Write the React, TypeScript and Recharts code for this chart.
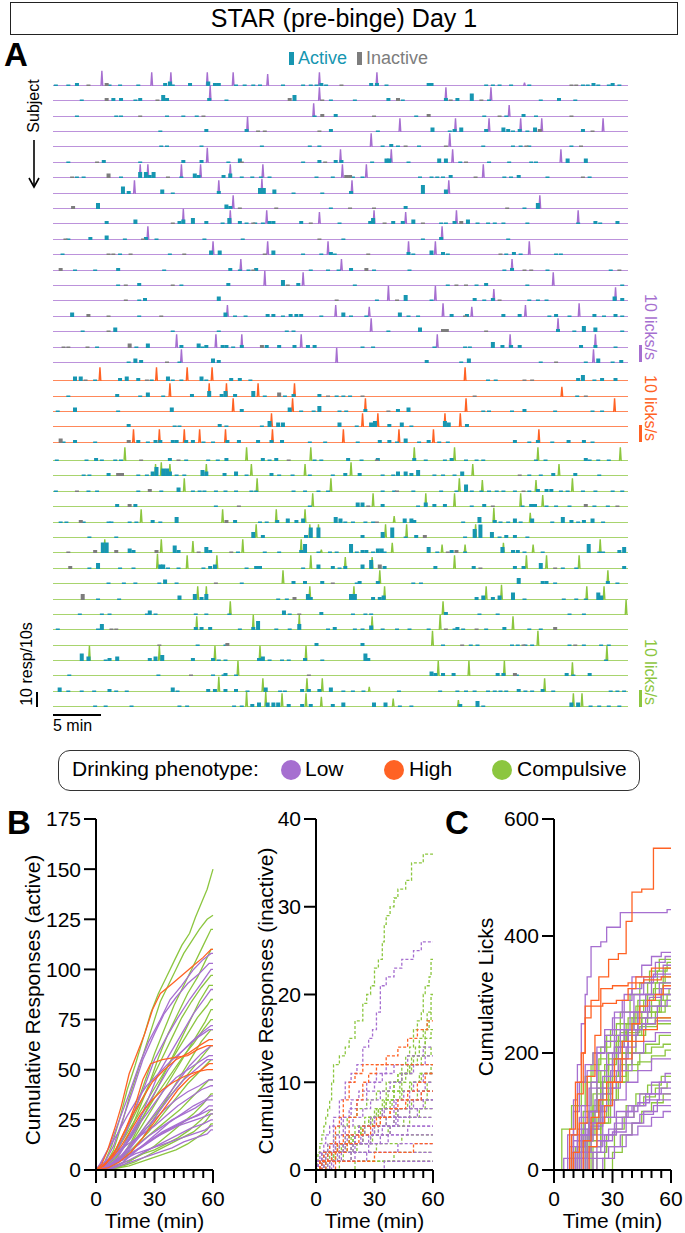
import React from 'react';
import { ComposedChart, LineChart, Line, Bar, Area, XAxis, YAxis } from 'recharts';

const FONT = '"Liberation Sans", Arial, Helvetica, sans-serif';
const LOW = '#a66fd0';
const HIGH = '#ff6224';
const COMP = '#8cc63f';
const LOW_FILL = '#dcc4ef';
const HIGH_FILL = '#ffc2a6';
const COMP_FILL = '#d2eab2';
const ACTIVE = '#1796b1';
const INACTIVE = '#7d7d7d';

// ---- Panel A: lick bouts ("time:licks/s") and responses per bin ("time[:count]"), time in min ----
const lowLicks = [
  '5.1:9 10.3:8 12.3:8 16.1:8 18.8:8 22.4:7 27.8:8 33.8:8 49.2:2',
  '16.4:9 27.8:8 41:8 45.7:8',
  '27.2:8 47.6:7',
  '20.3:9 36.2:8 42:8 45.5:8 48.8:8 51:8 57.4:8',
  '33.2:8 41.4:8',
  '16.1:9 30:8 35.3:8 41.7:8 53:8',
  '9.1:8 9.9:8 13.4:8 15.4:8 18.5:8 21.9:8 30.2:8 32.7:8 44.9:8',
  '8.5:8 17.3:8 21.8:9 31.2:8 41.3:8',
  '18.8:8 50.8:8',
  '13.6:9 18.5:8 22.3:8 27.8:7 33.5:8 36.8:7 42.1:8 54.8:8',
  '9.9:8 40.6:8',
  '16.7:8 22.4:8 28.7:8 37.1:8 39.9:8 49.7:8',
  '19.6:7 30.1:7 47.9:7',
  '22.1:9 26.1:8 52.2:8',
  '35:9 39.9:9 46:7 58.7:8',
  '18.2:7 29.5:7 33:6 40.7:8 43.7:6 49.3:7 54.9:8',
  '33.2:8 52.7:8',
  '12.9:8 17:8 19.7:8 25.9:8 40.1:8 47.7:8 56.6:8',
  '13.4:8 29.6:9 56.4:8',
];
const lowActive = [
  '0.3 1.6 2.5:2 5.9 7 8.9 11.7:2 12.2:3 12.5 14.3:2 16.2:3 16.9:2 17.3:2 19.1 20 20.9 21.6 24 26.1 26.9 27.5 28:2 28.5 33.2:2 33.8:2 34.8 39.2:2 39.5:2 45.2 45.9 46.6 47.8 49.7 55.3 55.8 56.4:2 56.9 58 58.4:2 59.1',
  '3 6.3:2 7.1:2 8.6 9.1:2 11.5:4 11.9:2 16.3:2 18.1 25.2:4 29 31.5 35:2 36.5 41:2 42.2:2 43.7:5 45.5 50.9 52.8:2 54.5',
  '2.5 6.6 7.1 11.9 13.6 15 27.3 29.5:2 37.9 45 47.3 49.1:2 50.4',
  '11.2 16:2 20.2:2 29:2 33.9 39.6:3 41.4 41.9:2 42.6:3 45.2:2 47:3 47.5:2 48 48.7:2 49.5 50.3:3 55.3:2',
  '11.3 11.9 15.5 21.8 26.8 27.8 34.4 35.3:2 36 38.2 44.9 48 48.8 49.7 54.1',
  '1.6 5.3:2 9.1 13.6:2 15.5:2 18.3 19.5:3 26.1 27.8:2 29.5:2 30.1:2 33.3 34.8:3 35.1:3 37.1 40.3:3 41:3 42.5 45.5 47.6 49.9 50.4 53.7:3 55.6:3',
  '2.5 3.2 7.1 9.1:4 9.7:4 10.1:2 10.5:4 13.4 14.8:3 15.2:2 17.8:2 18.5:3 19.7 20.8 21.7 22.6 27.5 29.2 31.3 32.3 38.3 39.5 40.1 40.7 41.5:2 47.1 47.8 48.6:2 51.6 56',
  '7.3:5 7.9:2 11.4:3 12.5 17.3:2 21.6:4 22:4 23.1:3 25.1 28.1 31.1:2 38.6:6 41:3',
  '4.7:4 18.1:3 18.5:2 29 36.8:2 49.2 50.6:4',
  '5.6:2 8.6:3 13.2:2 13.6:3 14.6:4 16:2 17.7 18.4:4 19.5:2 20.2 21.1 21.9 22.6:2 23:2 25.9:2 29.9 33.1:2 33.4:4 35.5:2 36.5:2 37.6:3 40.5 41 41.9:2 43.3:3 44.3 45.4 46.1 47 49.5 54.8 56.6:2 57.1 58.9:2',
  '1.6 3.9:2 5.6:3 7.5 9.7:2 10.8 15.8 19.8 30.3 38.6 40.5:2 47.5',
  '1 7 12.2 16.5:3 17.4:3 23:3 26.1 28 29:2 29.4 37.1:2 37.6 39.5:3 40.7:2 41.2 47.3 48.1:2 48.8 52.5 53',
  '2.3 4.4 6.8:2 11.6 18.5:2 19.5 20.4 21.2:2 26.9 28.7 29.8 31.1:2 33.5 37.2 47.1 47.9:2 51.6 58.2',
  '6.8 9:2 13.4 18.3:2 24:4 25.6:2 31.5 41.2 44.2 45.2:2 49.5 59.4',
  '9 9.6:2 17.3:3 33.8 36.8:4 39.5 44:2 45 45.9:2 49.7 50.6 51.5 58.6:3 59.4:2',
  '2:3 9 18:3 19 20.1 22.4:2 23:2 24 24.8:2 25.4:2 25.9:2 28 30.3:3 31.1 32.7 36.2:3 37.1 38.1 41.6:2 43.2:2 47:2 48.7:2 51.8 52.5:2 53.9 56.5:2 57.5 58.7:2 59.4',
  '3.1 6.5:3 12.5 17.3 24.4 25.1 35 38.3:3 52.7:2 54.4 55.4:4 56.6:3 59.4',
  '4.6 8.7 9.9:3 13.4:2 15.2:3 15.6 16:2 17.7:2 18.1:2 18.8 19.7:2 22.3:2 23.6:2 25.2:2 26.6:2 27.3:2 32.3 33.4 39.8 43 43.5 45.9:4 46.9:2 47.8:2 48.7:2 55.1:2 56.6:2 58.7',
  '7.9 8.6:3 9.2:2 13.2 16.7:3 17.3:2 39:2 42.6 43.4:3 50.9 55.6 56.9:3 58.4 59.3:2',
];
const lowInactive = [
  '3.7 5.6:2 30.1 54.1 54.6',
  '5.6:2 10.9 24.7:2 28.1 36:2 41.5 44.7',
  '9.1 15.7 28.1:2 33.5 39.2:2 46.6 54.1',
  '21.4 22.1 27.8 50.8:2 56.3',
  '36.8 41 49.4 55.1',
  '4.6 19.7 28.4 43.1',
  '2 5.8:3 12 30.6:2 31:2 44.1 55.3',
  '',
  '2.1:2 19.5 23.3 31 33.5 47.4',
  '12.5 20.9 26.9 34.6 38.6 42.6:2',
  '1.3 9.4 27.8',
  '5.8 6.3 8.1 13.7 22.1 32.9 46.7',
  '0.8:2 20.9 32.7:2 49.2 49.9 59.1',
  '7.6 12.5 24.5 42.1 43.1',
  '7.6 29.6 35.9 46.6',
  '3.7:2 5.8 11.3 43',
  '5.8 40.7:2 41.1:2 45.2',
  '1.1 1.6 3.6 8:3 21.8:2',
  '11.9 52.5',
];

const highLicks = [
  '4.9:8 10.8:8 14:8 16.6:8 43:8',
  '12.2:8 16.3:8 18.1:8 21.4:8 25.2:8 53.1:6',
  '18.8:8 25:8 32.6:8 43.1:8 58.6:8',
  '22.8:8 32.3:8 33.9:8 40.9:8 42.5:8',
  '8.4:8 11.1:8 13.7:8 15.3:8 18:8 22.9:8 30.3:8 36.1:8 39.7:8 50.7:8',
];
const highActive = [
  '2.3:3 2.9:3 4.4 7:2 7.7:3 8.9:2 10.3 12:3 12.5 13.4 15.5:3 16 18.6:2 19.5:2 20.6 45.4 46.2 54.8:2 55.3:4 56.5 57.3:2 58.7:2',
  '1.6 6.7:2 9.1 9.9:3 11.5 14.5:2 16.3:4 17.6:2 18:4 19:2 20.9:4 22.1 24.2 25.1:2 27.8:2 29.6 30.3 31 54.7',
  '0.5 2.3:3 6.8 12.4:3 19.7:2 24.7:3 25.9 27.2 27.8:4 29.9 30.6 32.6:2 36:2 37.1:3 44.9 45.5 47.9 49.2:2 52.4 56.3 57.3',
  '7.9:2 12.7 13.2 17.4:2 18.1 21.8 22.6:4 23.5:3 24:3 29.9:3 31.7 33.2:3 33.6:4 35.1:2 36.4:3 37.4 40.9:4 41.3:3 43.2:2',
  '1.1 2.3:2 4.4 8.9:2 9.9 10.7:2 11.2:2 12.5:2 12.9:2 13.9:2 14.6:2 15.7 16.7 18.2:2 19.4:2 21.4:2 22.8:2 23.9:2 26.8 28.4 31.8 34.1:2 35.1:2 35.9 36.8:3 38.2 39.2:2 40.3 41.2 48.2:2 49.7 50.6:2 52.1 53.8:2 55.4:2 56.3',
];
const highInactive = ['3.4 9.8 49.2 50', '23.6:3 28.7 32.3 44 55.6', '35', '', '0.8:3 7.9:2'];

const compLicks = [
  '7.5:8 20.2:8 26.9:8 37.7:8 41.9:8 50.6:8 59.2:8',
  '10.7:7 11.3:8 12.2:7 16:7 20.7:7 26.3:7 31.1:8 43.8:7 52.8:7',
  '13.7:8 21.3:8 29:8 42.4:8 44.8:7 50.4:7 54.2:8',
  '27.1:8 33.4:8 38.9:8 41.9:8 48.8:8 51.1:7',
  '9.2:8 17.7:8 23.3:8 26.3:8 35.6:4 46:9 49.8:6',
  '21.2:8 26.8:8 27.7:8 34.7:8 36.9:8 44.1:8',
  '5.4:8 11.3:8 14.6:7 19.8:8 25.9:8 28:2 35.4:6 40.6:5 43:5 47:6 50.1:5 57.1:8',
  '10.9:9 14:8 17.1:8 26.9:8 30.5:7 33.3:7 41.9:8 49.4:8 51.5:8 54.9:8',
  '24:8 34.1:8 57.9:8',
  '15.1:8 16:8 26.8:8 31.4:8 34.6:8 45.2:8 46.8:9 55.7:8 57.5:8',
  '18.5:8 40.7:8 59.8:9',
  '15:8 20.9:9 25.7:9 33.3:8 40.4:9 48:8',
  '39.6:9 50.6:9',
  '3.8:9 11.1:9 16.9:9 21.6:9 26.4:9 57.8:9',
  '19.3:9 40.2:9 43.4:9 47.1:9 54.2:8',
  '17.3:9 21.9:8 26.5:8 28.1:8 33:3 51.3:8',
  '20.2:9 22.2:9 23.9:8 26.4:8 28:6 35.5:5 42.3:4 54.3:8 55.2:8',
];
const compActive = [
  '0.4 3.5 4.5:2 5.1 6.5 7.1 12.2:2 13.9 16.2 17.2 18.1:2 21.9:2 22.6 23.3:2 27.3 28 30.8:2 32.2 33.9:2 37.7:2 38.9 40.9 41.6:2 43.1 44.2 44.9 50.4 51.4 55.6:2 56 56.9 58',
  '3.2 3.8 5.8:2 8.9 9.8 10.4:3 10.8:6 11.5:5 11.9:5 12.2:3 12.9 13.7 15.6:4 16:3 17.9:2 19.1:3 20.2 22.8:2 23.6 25 26.8 29.2 30.5:2 32:2 34.4 35.5 36:3 36.8:3 37.4:2 38.1:4 39.8 40.7 41.9 42.7:3 49.7 50.9 52.2:2 54.5:2 57',
  '0.3 3.7 4.6 8.9 11.3 13.1:3 14.6 15.3 15.8 17 18 19.1 20.7 21.2 25.1 26.3 27.7 28.7 34.4 35.6 37.6 40.5 42.1 43.1:5 43.7 44.7 45.5 46.3 47 48.2 49.7 50.6:2 51.5:2 52:2 53 53.7 55.3 56.6 58.4 59.4',
  '6.7:2 8.6:2 17 26.8 31.8:3 32.3:3 34.4:2 38.1 38.9:3 39.8:2 40.9:2 43.7 45:2 49 49.9:2 50.3:2 51.5 52.5 53.9 56.5 57.9',
  '0.8 1.4 3.2 5.8 6.1 8 8.7 10.4:2 11.2 12.9:4 19:2 21.6 22.3 23.4:2 24.5:3 25.4:2 26.1:3 29.5:4 30:3 30.5 31.3 32.6 33.4 36.7:3 37.4:3 37.7:2 42.8 44.5:4 46.1:2 46.7 47.5 48.2:3 48.8 50:3 52.1 53.2:4 54.1:2 54.8 55.4:2 56.3:3 57.4',
  '3.8 6.6 20.9:4 21.9:2 26.4:2 26.9:7 27.7:7 32.3:2 34.4:4 35.4:7 36.8 37.9:2 43 44:6 44.6:9 45.8:4 46.6 47.3:2 48.2:2 49.5',
  '5.2:7 5.6:7 8:3 8.4:2 12.7:5 13.1:2 16:4 16.4:2 19.3 22.1 23.6 25.9:2 26.3:6 27.7 28.9 29.6 31.1:6 31.7 32.3:2 32.7:2 33.4 33.9:3 34.3:3 34.6 39.2:4 40.1 41.6:2 43 46.9:4 48:2 48.5:2 49.2 51.1 55.9:6 57 57.4 59.1:2 59.6:4',
  '3.8 4.7:4 7 8.4 11.2:3 11.5:3 12 13.1 15.7 16.4:2 16.9:3 20.2 21.2:2 21.6:2 26.1 27.7:3 29.2:2 29.9 30.5:2 32.3:3 33.2:6 34.6:2 39.9:2 43.9:2 48.2:2 49.1:2 50.9:4 53.2 54.6 59.6:2',
  '5.8 7.4 8.6 11.1 11.7:3 12.9 19.7 25.1:2 26.3:2 28.1:2 31.7 32:2 33.9:2 37.6 38.4 48.6:4 51.1:2 51.5:2 52.4 57.9:2 58.9',
  '4.7 6.9 13.2:3 14.8:4 15.5:2 16:4 23.5 24.4 26.6:4 26.9:2 31.1:4 31.5:4 33.4:2 34.1:2 34.5:3 44.2:2 44.9:3 45.9:2 46.6:3 48:5 49.2 53.3 54.6 55.6 56.9:5 57.2:3',
  '2.8 5.1 5.9 9.8 10.1:3 10.7 14.9 16 18.4 24.1:3 24.7 28:2 31.3 32.6 33.2 41:2 44.5 46.4 53.9 55.4',
  '0.5 4.7 5.1:4 14.9:2 15.5:2 16.4:2 19.5 20.9:2 21.4:6 23.3 24.7 25.7:4 28.7 29.4:2 31.5 32.3 33.2:3 34.4 35.9 37.2 39.2 41.9 42.2:2 42.8 45.2 47.1:2 49.7 50.9',
  '15.1 18 27.5:2 32.3:2 40.7 43.6 44.3 47.9 48.5 49.3 50 53.9 55.4 57.2 58',
  '3:5 3.7:3 5.5 5.9:2 6.7:3 10.1:2 10.7:3 11.4:4 14.6:2 16.7:2 17.3 18 21.5:2 21.9:3 22.6 23.9 24.6 26.3:2 28.1 32.6:5 32.9:2 57.7',
  '1.7 11 16.7 17.8 18:2 19.1 39.5:3 39.9:2 40.7:2 41.8:2 46.4:2 47:2 48.4 53.6:2 54.3 56:2',
  '0.7:3 1.6 3 4.3 5.9:2 6.6 7.7 12.5:3 13 16.2:2 16.9:2 18:2 19.1:2 20.3 22.2:3 23.7 24.2 26:2 26.7:2 27.8:2 29:3 30.3 31.3 32.4 36.1 40.4 42.2 43.1 44 45.4 46.1 46.7 47.3 48.6:2 49.3 50 51.1:2 52.2 58.2 58.9 59.6',
  '4.4 5.5 8.2 13.2 14 18.9 19.7 20.8:2 21.5:3 22.4:3 23:3 23.5:3 24.6:2 26:2 26.9:2 29.2:2 30.3:3 33.5:3 34.7:3 36.2 37.4 42.5:2 44.3:4 44.9 54.1:3 54.8:3 56.1 57 58 59.1',
];
const compInactive = [
  '9.2 13.1 24.6 33.8',
  '6.8:2 7.2:2 48.7',
  '2.5 10.1:2 35.9 49.1',
  '8:2 19.4 32.9 45.9 55.6:2 58.9',
  '2.9:2 18.1:2 33.8',
  '38.8:2',
  '1.6 4.4:2 6.6:2 10.8:2 15.2 18.6 41.2 42.1:2',
  '1.8:2 34.1:3 44.6 52.4',
  '17 29.2',
  '3.1:4 25.2:2',
  '25.7',
  '6.1 6.6 41 44.2 52.4:2',
  '11.1 18.2:2 42.7 49.1 54.5',
  '',
  '14.4 26.7 48.2:2',
  '',
  '',
];

// ---- Panels B and C: cumulative counts, "time:total" ----
const activeLow = [
  '3:4 7:12 12:25 17:38 22:52 27:64 33:75 38:85 44:92 50:100 55:105 59:108',
  '4:3 9:12 14:26 19:40 24:55 30:68 35:78 41:86 47:93 53:98 58:103',
  '5:2 10:8 15:18 20:30 25:42 30:55 36:66 42:76 48:85 54:93 59:100',
  '6:2 11:6 16:14 22:24 27:36 32:48 38:58 44:68 50:78 56:86 59:90',
  '4:2 9:6 14:12 19:20 25:30 31:40 37:50 43:58 49:64 55:69 59:72',
  '2:3 6:10 11:18 16:27 21:35 26:42 32:48 38:54 45:60 52:66 58:70',
  '7:2 12:6 18:12 24:20 30:28 36:36 42:44 48:52 54:58 59:62',
  '3:2 8:5 13:10 18:16 23:24 29:32 35:40 41:46 47:50 53:54 58:57',
  '5:1 10:4 16:9 21:15 27:22 33:30 39:38 45:45 51:50 57:55',
  '6:2 12:6 17:12 23:18 29:24 35:30 41:35 47:39 53:42 58:45',
  '2:2 7:6 12:10 18:14 24:18 30:22 36:27 42:32 48:36 54:40 59:42',
  '8:1 14:4 20:9 26:14 32:19 38:24 44:28 50:32 56:35 59:37',
  '3:1 9:4 15:8 21:12 27:17 33:21 39:25 45:28 51:31 57:35',
  '5:2 11:5 17:8 23:11 29:15 35:19 41:22 47:25 53:28 58:32',
  '4:1 10:3 16:7 22:11 28:15 34:19 40:22 46:25 52:27 58:30',
  '6:2 12:5 18:8 24:12 30:16 36:19 42:22 48:24 54:26 59:28',
  '7:1 13:3 19:6 25:9 31:12 37:15 43:18 49:21 55:23 59:25',
  '2:1 8:3 14:5 20:8 26:10 32:12 38:14 44:16 50:18 56:20 59:22',
  '9:1 15:3 21:5 27:7 33:9 39:11 45:14 51:16 57:18 59:20',
];
const activeHigh = [
  '3:3 6:10 10:22 13:32 17:48 21:58 25:68 29:80 33:88 38:92 44:97 50:102 55:106 59:110',
  '4:2 9:8 14:18 19:28 24:36 29:44 35:50 41:55 47:58 53:62 58:65',
  '5:3 10:10 15:20 20:32 24:45 28:53 34:55 40:56 47:57 52:60 57:62',
  '6:1 12:4 18:9 24:16 30:24 36:32 42:40 48:46 54:50 58:53',
  '3:2 8:6 13:12 18:20 23:28 28:34 34:40 40:44 46:47 52:49 57:50',
];
const activeComp = [
  '4:3 8:12 12:25 16:40 20:52 24:65 28:78 32:88 36:96 40:104 44:112 48:118 51:126 54:133 57:140 60:150',
  '5:3 9:10 13:22 17:36 21:48 25:60 29:72 33:84 37:92 41:100 45:108 49:114 53:120 57:125 60:127',
  '6:2 10:8 15:18 20:30 25:44 30:58 35:70 40:82 45:92 50:102 55:112 59:120',
  '7:2 12:8 17:18 22:30 27:42 32:56 37:68 42:78 47:88 52:96 56:104 59:110',
  '4:2 9:8 14:16 19:26 24:36 29:46 34:56 39:66 44:76 49:84 54:91 59:97',
  '8:2 13:6 18:14 23:24 28:34 33:44 38:54 43:64 48:74 53:84 58:92',
  '3:2 7:6 12:12 17:20 22:28 27:36 32:44 37:52 42:60 47:68 52:76 57:82 59:85',
  '6:1 11:4 16:10 21:18 26:26 31:34 36:42 41:50 46:58 51:66 56:74 59:80',
  '5:2 10:6 15:12 20:20 25:28 30:36 35:43 40:50 45:57 50:63 55:70 59:75',
  '9:1 14:4 19:10 24:16 29:24 34:32 39:40 44:48 49:56 54:64 59:70',
  '4:1 9:4 14:8 19:14 24:20 29:26 34:32 39:38 44:44 49:50 54:56 59:62',
  '7:2 12:5 17:9 22:14 27:19 32:25 37:31 42:37 47:43 52:48 57:53 59:55',
  '3:1 8:3 13:6 18:10 23:14 28:18 33:22 38:26 43:30 48:35 53:40 58:45',
  '10:1 15:3 20:6 25:9 30:12 35:16 40:20 45:24 50:28 55:33 59:38',
  '6:1 12:3 18:5 24:8 30:10 36:13 42:16 48:20 54:25 59:30',
  '8:1 14:2 20:4 26:7 32:10 38:13 44:16 50:19 56:24 59:28',
  '11:1 17:2 23:4 29:6 35:8 41:10 47:13 53:17 57:20 59:23',
];

const inactiveLow = [
  '1:1 2:2 4:3 5:4 7:5 9:6 12:8 15:10 18:11 21:12 24:14 27:15 29:16 31:18 33:21 36:22 40:23 44:24 50:25 54:26',
  '2:1 4:2 6:3 9:5 13:6 17:7 21:8 26:9 30:10 34:11 40:12 47:13 55:14',
  '3:1 6:2 9:3 12:4 15:5 19:6 24:7 28:8 33:9 38:10 44:11 50:12 56:13',
  '1:1 3:2 7:3 10:4 14:6 18:8 22:9 26:10 31:11 36:12',
  '4:1 8:2 14:3 20:4 25:5 30:6 35:7 40:8 45:9 50:10 55:11',
  '2:1 5:2 10:3 16:4 22:5 28:6 34:7 41:8 48:9 56:10',
  '6:1 12:2 18:3 24:4 30:5 36:6 42:7 48:8 54:9',
  '1:1 4:2 9:3 15:4 22:5 30:6 40:7 50:8',
  '7:1 13:2 20:3 27:4 34:5 41:6 48:7 55:8',
  '3:1 8:2 15:3 23:4 32:5 42:6 52:7',
  '2:1 6:2 12:3 20:4 29:5 40:6',
  '5:1 11:2 19:3 28:4 38:5',
  '9:1 18:2 27:3 37:4 47:5',
  '1:1 3:2 14:3 33:4',
  '8:1 20:2 42:3',
  '4:1 26:2',
  '35:1',
  '',
  '',
];
const inactiveHigh = [
  '2:1 4:2 7:3 10:5 12:6 14:8 17:10 20:11 24:12 36:13 42:14 47:15 52:16 57:17',
  '3:1 8:2 11:3 14:4 17:6 21:8 24:10 27:11 31:12',
  '5:1 10:2 16:3 22:4 28:5 33:6 38:7 42:8 47:9 52:10 56:11',
  '2:1 6:2 11:3 17:4 24:5 31:6 38:7 46:8 54:9',
  '10:1 30:2 50:3',
];
const inactiveComp = [
  '0.5:1 1:2 2:3 3:4 4:5 5:6 6:7 7:8 8:10 9:12 12:13 15:14 17:15 20:17 24:19 26:20 28:21 30:23 32:24 34:26 35:28 36:29 38:30 40:31 42:32 46:33 49:35 55:36',
  '4:1 9:2 14:3 19:4 23:5 27:6 31:7 34:8 37:9 40:10 42:11 44:12 46:13 48:14 50:16 52:17 54:18 55:20 56:21 58:22 59:24',
  '5:1 10:2 15:3 20:4 24:5 28:6 32:7 36:8 40:9 43:10 46:11 49:13 51:14 53:15 55:16 57:18 59:20',
  '3:1 7:2 12:3 17:4 22:5 27:6 32:7 36:9 40:10 44:11 47:12 50:13 53:14 56:16 58:17 59:18',
  '2:1 6:2 10:3 15:4 20:5 25:6 30:7 35:8 40:9 44:11 48:12 52:13 56:15 59:16',
  '1:1 3:2 6:3 9:4 12:5 16:6 21:7 26:8 31:9 36:10 42:11 48:12 54:13 59:14',
  '4:1 9:2 14:3 19:4 24:5 29:6 34:7 39:8 44:9 49:10 54:11 59:12',
  '2:1 8:2 13:3 18:4 23:5 28:6 33:7 38:8 43:9 48:10 53:11',
  '6:1 12:2 18:3 24:4 30:5 36:6 42:7 47:8 52:9 57:10',
  '1:1 5:2 11:3 17:4 25:5 33:6 41:7 49:8 57:9',
  '3:1 9:2 16:3 24:4 32:5 40:6 48:7 56:8',
  '7:1 14:2 21:3 29:4 37:5 45:6 53:7',
  '2:1 10:2 19:3 28:4 38:5 48:6',
  '5:1 18:2 31:3 44:4',
  '12:1 40:2',
  '20:1',
  '',
];

const licksLow = [
  '8:40 10:120 12:180 14:250 16:300 17:330 19:382 24:390 27:415 34:440 58:445',
  '5:20 9:60 14:110 17:170 22:210 26:240 31:270 36:300 40:330 45:350 50:365 55:372',
  '10:50 13:90 18:140 22:170 27:200 31:240 36:270 41:300 46:330 52:355 57:365',
  '12:40 16:80 21:120 25:160 30:200 34:240 39:270 44:300 50:330 56:350',
  '9:30 12:70 16:110 19:150 22:200 26:230 30:260 35:290 40:310 45:320 51:335',
  '14:60 18:100 22:140 27:180 31:210 36:240 41:270 47:300 54:320',
  '10:20 15:60 19:100 24:130 29:170 33:210 38:240 43:270 49:295 55:310',
  '16:50 20:80 25:110 30:150 34:190 38:230 43:260 48:280 55:300',
  '11:30 17:70 23:100 27:140 32:170 37:210 42:240 47:260 53:280 58:290',
  '7:60 10:100 13:150 16:180 20:200 26:220 32:230 38:240 45:250 52:255',
  '12:50 18:80 24:110 29:140 34:170 40:200 46:220 52:235',
  '13:30 19:60 25:90 31:120 37:150 43:170 50:190',
  '20:30 26:60 32:90 38:110 44:130 50:150 57:165',
  '15:20 22:50 28:70 35:90 41:110 47:130 54:150',
  '18:40 25:60 31:80 37:100 43:115 49:130 55:140',
  '10:40 14:60 19:75 25:90 32:100 40:110 47:120 54:130',
  '22:20 28:40 34:60 40:80 46:100 53:120',
  '17:30 24:50 30:65 37:80 44:95 51:110',
  '25:20 31:40 37:60 43:75 50:90 56:100',
];
const licksHigh = [
  '9:60 12:130 15:200 16:260 19:290 23:330 28:360 33:370 37:425 40:475 45:480 51:550',
  '8:70 11:150 14:200 16:280 25:285 32:290 38:310 42:330 50:345',
  '10:30 13:80 17:160 21:230 24:310 30:315 38:320 46:325 55:330',
  '15:50 19:90 23:120 27:150 31:190 35:220 40:250 44:280 48:290 52:300 56:315',
  '18:40 22:80 26:110 30:150 35:190 40:220 46:240 53:260',
];
const licksComp = [
  '4:70 9:110 14:150 19:180 24:210 29:240 34:270 39:300 44:320 49:340 54:360',
  '12:40 16:80 20:130 24:170 28:200 33:230 38:260 43:290 48:320 53:340 58:355',
  '8:20 13:60 18:100 22:140 27:180 32:220 37:250 42:280 47:300 52:320 57:345',
  '14:50 18:100 22:150 26:180 31:210 36:240 41:270 46:290 51:310 56:330',
  '10:30 15:70 20:110 25:150 30:190 35:220 40:250 45:270 50:290 56:320',
  '17:60 21:100 25:130 30:170 35:200 40:230 45:260 50:280 55:300 59:310',
  '13:40 18:80 23:120 28:160 33:200 38:230 43:250 48:270 54:290 58:300',
  '20:40 24:80 28:120 32:160 37:200 42:230 47:250 52:270 57:290',
  '11:40 15:100 19:150 23:190 27:230 32:250 40:260 48:270 55:280',
  '16:50 20:100 24:150 28:190 32:220 37:240 45:250 52:260',
  '9:60 12:110 16:160 20:200 26:220 34:235 44:245 53:250',
  '14:30 19:70 24:110 29:150 34:180 40:200 47:215 54:230',
  '19:40 24:80 29:120 33:150 38:180 44:200 50:210 56:215',
  '12:20 17:50 22:90 27:120 32:150 37:170 43:185 50:195 57:205',
  '22:30 27:60 32:90 37:110 42:130 48:145 55:160',
  '26:40 31:70 36:90 41:110 46:125 52:140 58:150',
  '30:30 35:60 40:80 45:100 50:115 56:130',
];

const TIME_TICKS = [0, 5, 10, 15, 20, 25, 30, 35, 40, 45, 50, 55, 60];
const SPIKE_HALF = 0.09;
const LICK_MAX = 11.76; // 10 licks/s = 17 px of a 20 px row
const RESP_MAX = 13.33; // 10 resp = 15 px

function parsePairs(s: string): [number, number][] {
  const str = s.trim();
  if (!str) return [];
  return str.split(/\s+/).map((tok) => {
    const [a, b] = tok.split(':');
    return [Number(a), b === undefined ? 1 : Number(b)] as [number, number];
  });
}

function buildRow(licks: string, active: string, inactive: string) {
  const pts: any[] = [
    { t: 0, lick: 0, active: 0, inactive: 0 },
    { t: 60, lick: 0, active: 0, inactive: 0 },
  ];
  parsePairs(licks).forEach(([t, h]) => {
    pts.push({ t: t - SPIKE_HALF, lick: 0, active: 0, inactive: 0 });
    pts.push({ t, lick: h, active: 0, inactive: 0 });
    pts.push({ t: t + SPIKE_HALF, lick: 0, active: 0, inactive: 0 });
  });
  parsePairs(active).forEach(([t, h]) => pts.push({ t, lick: null, active: h, inactive: 0 }));
  parsePairs(inactive).forEach(([t, h]) => pts.push({ t, lick: null, active: 0, inactive: h }));
  return pts.sort((a, b) => a.t - b.t);
}

function buildCum(s: string) {
  const pts = parsePairs(s).map(([t, v]) => ({ t, v }));
  const last = pts.length ? pts[pts.length - 1].v : 0;
  return [{ t: 0, v: 0 }, ...pts, { t: 60, v: last }];
}

const barShape = (fill: string) => (props: any) => {
  const { x, y, width, height } = props;
  if (!height || height <= 0 || !isFinite(x)) return <g />;
  const cx = x + width / 2;
  return <rect x={cx - 2} y={y} width={4} height={height} fill={fill} />;
};

function RasterRow({ data, color, fill, baseline }: any) {
  return (
    <div style={{ position: 'absolute', left: 53, top: baseline - 20 }}>
      <ComposedChart width={575} height={21} data={data} margin={{ top: 0, right: 0, bottom: 1, left: 0 }}>
        <XAxis type="number" dataKey="t" domain={[0, 60]} hide allowDataOverflow />
        <YAxis yAxisId="r" type="number" domain={[0, RESP_MAX]} hide allowDataOverflow />
        <YAxis yAxisId="l" type="number" domain={[0, LICK_MAX]} hide allowDataOverflow />
        <Bar yAxisId="r" dataKey="active" stackId="r" barSize={4} fill={ACTIVE} shape={barShape(ACTIVE)} isAnimationActive={false} />
        <Bar yAxisId="r" dataKey="inactive" stackId="r" barSize={4} fill={INACTIVE} shape={barShape(INACTIVE)} isAnimationActive={false} />
        <Area yAxisId="l" type="linear" dataKey="lick" stroke={color} strokeWidth={1.4} fill={fill} fillOpacity={0.8} connectNulls dot={false} activeDot={false} isAnimationActive={false} />
      </ComposedChart>
    </div>
  );
}

function TimeTick({ x, y, payload }: any) {
  const major = payload.value % 30 === 0;
  return (
    <g>
      <line x1={x} x2={x} y1={y} y2={y + (major ? 13 : 8)} stroke="#000" strokeWidth={2} />
      {major && (
        <text x={x} y={y + 36} textAnchor="middle" fontSize={21} fill="#000">
          {payload.value}
        </text>
      )}
    </g>
  );
}

function CumChart({ left, yMax, yTicks, series, dashed }: any) {
  return (
    <div style={{ position: 'absolute', left, top: 800 }}>
      <LineChart width={200} height={440} margin={{ top: 19, right: 27, left: 0, bottom: 0 }}>
        <XAxis
          type="number"
          dataKey="t"
          domain={[0, 60]}
          ticks={TIME_TICKS}
          interval={0}
          tickSize={0}
          tickMargin={0}
          tickLine={false}
          tick={(p: any) => <TimeTick {...p} />}
          height={70}
          axisLine={{ stroke: '#000', strokeWidth: 2 }}
          allowDuplicatedCategory={false}
          label={{ value: 'Time (min)', position: 'insideBottom', offset: 12, fontSize: 21, fill: '#000' }}
        />
        <YAxis
          type="number"
          domain={[0, yMax]}
          ticks={yTicks}
          interval={0}
          width={56}
          tickSize={12}
          tickMargin={3}
          tick={{ fontSize: 21, fill: '#000' }}
          axisLine={{ stroke: '#000', strokeWidth: 2 }}
          tickLine={{ stroke: '#000', strokeWidth: 2 }}
        />
        {series.map((s: any, i: number) => (
          <Line
            key={i}
            data={s.data}
            dataKey="v"
            type={s.type}
            stroke={s.color}
            strokeWidth={1.3}
            strokeDasharray={dashed ? '3 2' : undefined}
            dot={false}
            activeDot={false}
            isAnimationActive={false}
          />
        ))}
      </LineChart>
    </div>
  );
}

function makeSeries(low: string[], high: string[], comp: string[], type: string) {
  return [
    ...comp.map((s) => ({ data: buildCum(s), color: COMP, type })),
    ...low.map((s) => ({ data: buildCum(s), color: LOW, type })),
    ...high.map((s) => ({ data: buildCum(s), color: HIGH, type })),
  ];
}

function VText({ cx, cy, angle, size, color, children }: any) {
  return (
    <div
      style={{
        position: 'absolute',
        left: cx,
        top: cy,
        transform: `translate(-50%, -50%) rotate(${angle}deg)`,
        fontSize: size,
        color,
        whiteSpace: 'nowrap',
        lineHeight: 1,
      }}
    >
      {children}
    </div>
  );
}

export default function App() {
  const rows: any[] = [];
  lowLicks.forEach((l, i) =>
    rows.push({ data: buildRow(l, lowActive[i], lowInactive[i]), color: LOW, fill: LOW_FILL, baseline: 85.7 + 15.4 * i })
  );
  highLicks.forEach((l, i) =>
    rows.push({ data: buildRow(l, highActive[i], highInactive[i]), color: HIGH, fill: HIGH_FILL, baseline: 381.3 + 15.35 * i })
  );
  compLicks.forEach((l, i) =>
    rows.push({ data: buildRow(l, compActive[i], compInactive[i]), color: COMP, fill: COMP_FILL, baseline: 461 + 15.39 * i })
  );

  const activeSeries = makeSeries(activeLow, activeHigh, activeComp, 'linear');
  const inactiveSeries = makeSeries(inactiveLow, inactiveHigh, inactiveComp, 'stepAfter');
  const lickSeries = makeSeries(licksLow, licksHigh, licksComp, 'stepAfter');

  return (
    <div style={{ position: 'absolute', left: 0, top: 0, width: 685, height: 1233, background: '#fff', fontFamily: FONT, color: '#000', overflow: 'hidden' }}>
      {/* title */}
      <div style={{ position: 'absolute', left: 10, top: 2, width: 666, height: 31, border: '1.5px solid #222', display: 'flex', alignItems: 'center', justifyContent: 'center', fontSize: 25 }}>
        STAR (pre-binge) Day 1
      </div>

      <div style={{ position: 'absolute', left: 4, top: 36, fontSize: 33, fontWeight: 'bold' }}>A</div>

      {/* response legend */}
      <div style={{ position: 'absolute', left: 289, top: 52, width: 5, height: 13, background: ACTIVE }} />
      <div style={{ position: 'absolute', left: 298, top: 48, fontSize: 18, color: ACTIVE }}>Active</div>
      <div style={{ position: 'absolute', left: 357, top: 52, width: 5, height: 13, background: INACTIVE }} />
      <div style={{ position: 'absolute', left: 366, top: 48, fontSize: 18, color: INACTIVE }}>Inactive</div>

      <VText cx={34} cy={106} angle={-90} size={16} color="#000">Subject</VText>
      <svg style={{ position: 'absolute', left: 26, top: 138 }} width={16} height={52}>
        <line x1={8} x2={8} y1={2} y2={47} stroke="#000" strokeWidth={1.6} />
        <path d="M3,40 L8,49 L13,40" fill="none" stroke="#000" strokeWidth={1.6} />
      </svg>

      {rows.map((r, i) => (
        <RasterRow key={i} {...r} />
      ))}

      {/* scale bars */}
      <div style={{ position: 'absolute', left: 639, top: 345, width: 2.5, height: 17, background: LOW }} />
      <VText cx={650} cy={327} angle={90} size={16} color={LOW}>10 licks/s</VText>
      <div style={{ position: 'absolute', left: 639, top: 425, width: 2.5, height: 17, background: HIGH }} />
      <VText cx={650} cy={408} angle={90} size={16} color={HIGH}>10 licks/s</VText>
      <div style={{ position: 'absolute', left: 639, top: 690, width: 2.5, height: 17, background: COMP }} />
      <VText cx={650} cy={672} angle={90} size={16} color={COMP}>10 licks/s</VText>

      <div style={{ position: 'absolute', left: 36, top: 692, width: 2, height: 15, background: '#000' }} />
      <VText cx={27} cy={664} angle={-90} size={16} color="#000">10 resp/10s</VText>
      <div style={{ position: 'absolute', left: 53, top: 714, width: 48, height: 2, background: '#000' }} />
      <div style={{ position: 'absolute', left: 53, top: 717, fontSize: 16 }}>5 min</div>

      {/* phenotype legend */}
      <div style={{ position: 'absolute', left: 58, top: 750, width: 580, height: 39, border: '1.5px solid #333', borderRadius: 12 }} />
      <div style={{ position: 'absolute', left: 72, top: 757, fontSize: 21 }}>Drinking phenotype:</div>
      <div style={{ position: 'absolute', left: 281, top: 760, width: 20, height: 20, borderRadius: 10, background: LOW }} />
      <div style={{ position: 'absolute', left: 305, top: 757, fontSize: 21 }}>Low</div>
      <div style={{ position: 'absolute', left: 384, top: 760, width: 20, height: 20, borderRadius: 10, background: HIGH }} />
      <div style={{ position: 'absolute', left: 409, top: 757, fontSize: 21 }}>High</div>
      <div style={{ position: 'absolute', left: 492, top: 760, width: 20, height: 20, borderRadius: 10, background: COMP }} />
      <div style={{ position: 'absolute', left: 517, top: 757, fontSize: 21 }}>Compulsive</div>

      <div style={{ position: 'absolute', left: 7, top: 804, fontSize: 33, fontWeight: 'bold' }}>B</div>
      <div style={{ position: 'absolute', left: 445, top: 804, fontSize: 33, fontWeight: 'bold' }}>C</div>

      <CumChart left={40} yMax={175} yTicks={[0, 25, 50, 75, 100, 125, 150, 175]} series={activeSeries} />
      <CumChart left={260} yMax={40} yTicks={[0, 10, 20, 30, 40]} series={inactiveSeries} dashed />
      <CumChart left={498} yMax={600} yTicks={[0, 200, 400, 600]} series={lickSeries} />

      <VText cx={32} cy={1000} angle={-90} size={21} color="#000">Cumulative Responses (active)</VText>
      <VText cx={265} cy={1001} angle={-90} size={21} color="#000">Cumulative Responses (inactive)</VText>
      <VText cx={485} cy={997} angle={-90} size={21} color="#000">Cumulative Licks</VText>
    </div>
  );
}
